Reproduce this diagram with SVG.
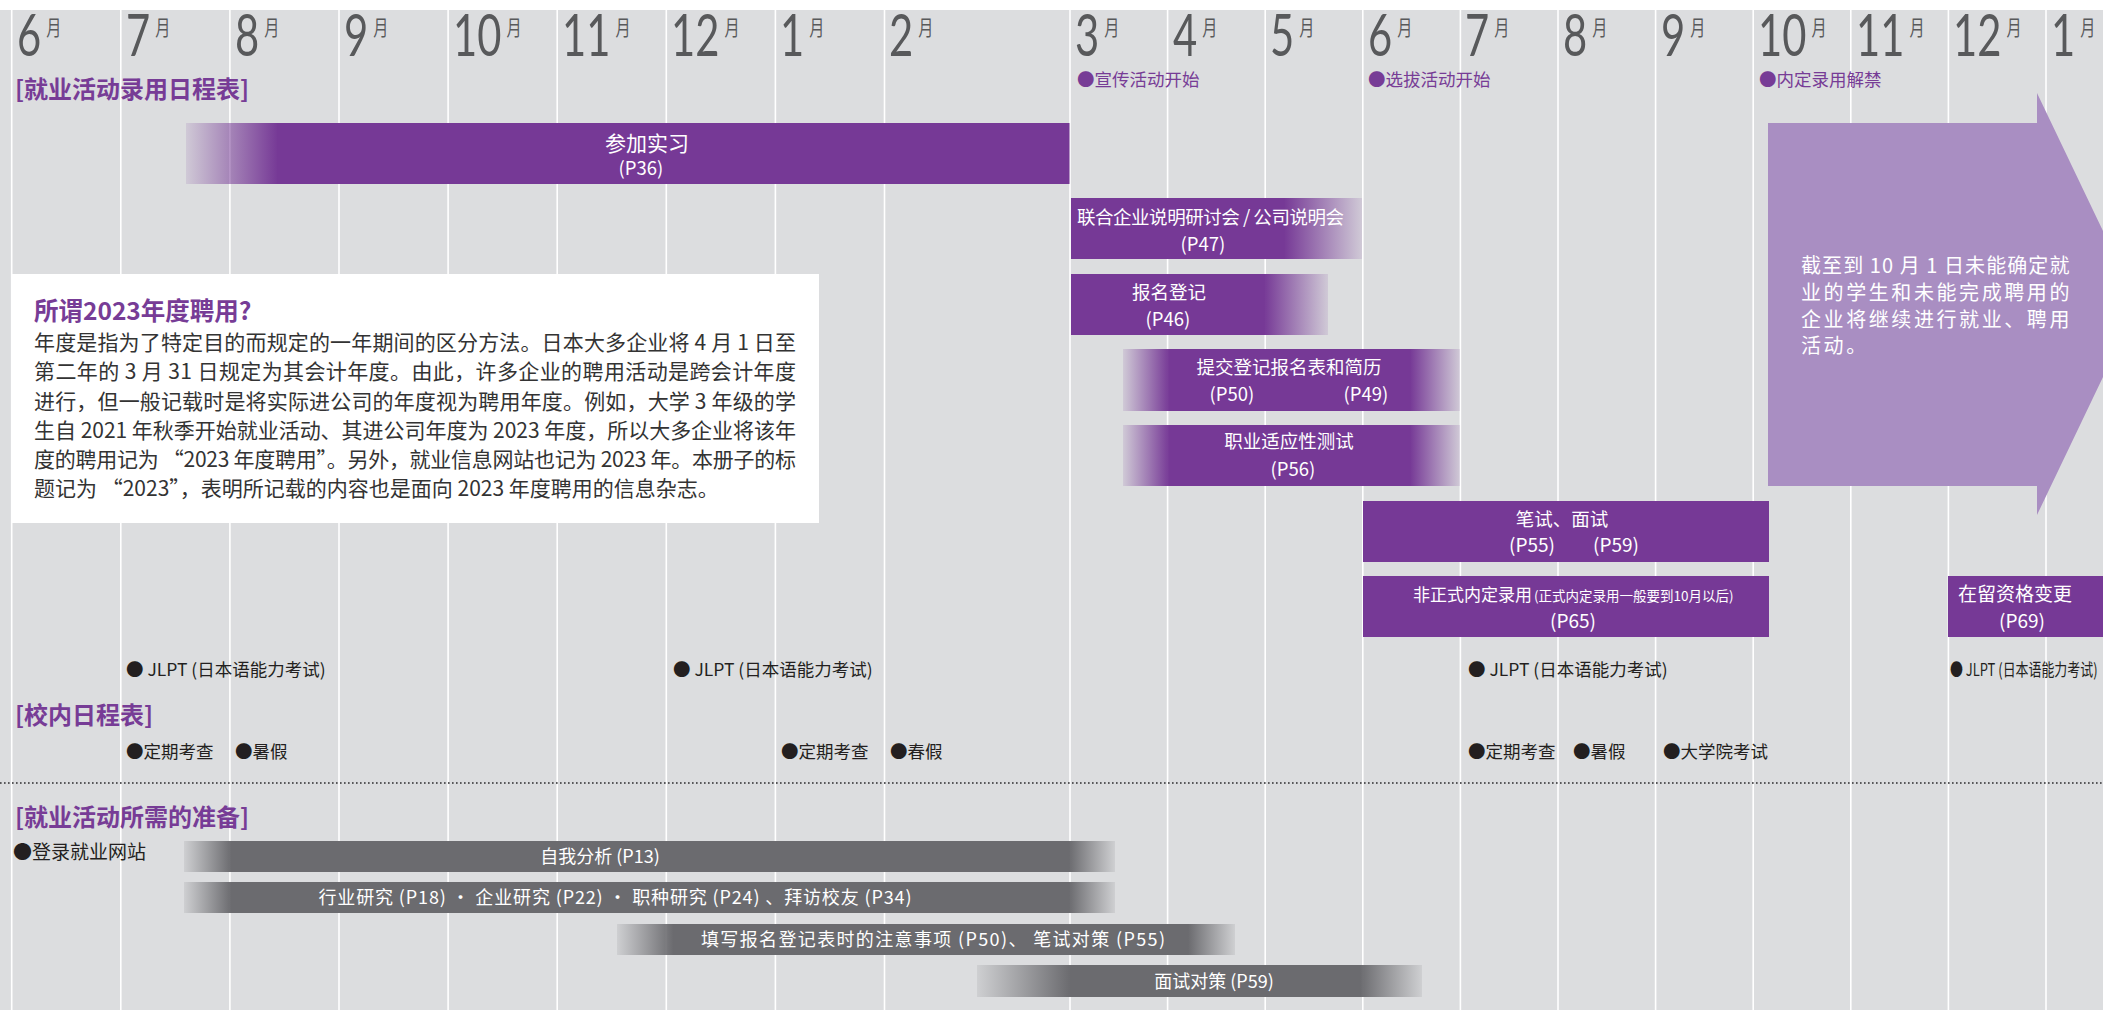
<svg xmlns="http://www.w3.org/2000/svg" width="2103" height="1010" viewBox="0 0 2103 1010">
<defs>
<linearGradient id="pL" x1="0" y1="0" x2="1" y2="0"><stop offset="0" stop-color="#763996" stop-opacity="0.12"/><stop offset="1" stop-color="#763996" stop-opacity="1"/></linearGradient>
<linearGradient id="pR" x1="0" y1="0" x2="1" y2="0"><stop offset="0" stop-color="#763996" stop-opacity="1"/><stop offset="1" stop-color="#763996" stop-opacity="0.12"/></linearGradient>
<linearGradient id="gL" x1="0" y1="0" x2="1" y2="0"><stop offset="0" stop-color="#6b6b6f" stop-opacity="0.12"/><stop offset="1" stop-color="#6b6b6f" stop-opacity="1"/></linearGradient>
<linearGradient id="gR" x1="0" y1="0" x2="1" y2="0"><stop offset="0" stop-color="#6b6b6f" stop-opacity="1"/><stop offset="1" stop-color="#6b6b6f" stop-opacity="0.12"/></linearGradient>
</defs>
<style>
text{font-family:"Noto Sans CJK SC","Noto Sans",sans-serif;}
.num{font-family:Lato,"Open Sans","Noto Sans",sans-serif;font-weight:400;font-size:58px;fill:#58595b;}
.num tspan{font-family:"Noto Sans CJK SC",sans-serif;font-size:21px;}
.vl{stroke:#ffffff;stroke-width:1.6;}
.sec{font-size:24px;font-weight:700;fill:#773c96;}
.ms{font-size:17.5px;fill:#773c96;}
.pb{fill:#763996;}
.gb{fill:#6b6b6f;}
.wt{fill:#ffffff;font-size:18.5px;}
.wc{fill:#ffffff;font-size:18.5px;text-anchor:middle;}
.blk{fill:#231f20;font-size:17.5px;}
.body{fill:#333333;font-size:21px;}
.arr{fill:#ffffff;font-size:20px;letter-spacing:2.6px;}
</style>
<rect x="0" y="0" width="2103" height="1010" fill="#ffffff"/>
<rect x="0" y="10" width="2103" height="1000" fill="#dcdddf"/>
<g id="grid">
<line class="vl" x1="11.7" y1="10" x2="11.7" y2="1010"/>
<line class="vl" x1="120.8" y1="10" x2="120.8" y2="1010"/>
<line class="vl" x1="229.9" y1="10" x2="229.9" y2="1010"/>
<line class="vl" x1="339" y1="10" x2="339" y2="1010"/>
<line class="vl" x1="448.1" y1="10" x2="448.1" y2="1010"/>
<line class="vl" x1="557.2" y1="10" x2="557.2" y2="1010"/>
<line class="vl" x1="666.3" y1="10" x2="666.3" y2="1010"/>
<line class="vl" x1="775.4" y1="10" x2="775.4" y2="1010"/>
<line class="vl" x1="884.5" y1="10" x2="884.5" y2="1010"/>
<line class="vl" x1="1070" y1="10" x2="1070" y2="1010"/>
<line class="vl" x1="1167.6" y1="10" x2="1167.6" y2="1010"/>
<line class="vl" x1="1265.2" y1="10" x2="1265.2" y2="1010"/>
<line class="vl" x1="1362.8" y1="10" x2="1362.8" y2="1010"/>
<line class="vl" x1="1460.4" y1="10" x2="1460.4" y2="1010"/>
<line class="vl" x1="1558" y1="10" x2="1558" y2="1010"/>
<line class="vl" x1="1655.6" y1="10" x2="1655.6" y2="1010"/>
<line class="vl" x1="1753.2" y1="10" x2="1753.2" y2="1010"/>
<line class="vl" x1="1850.8" y1="10" x2="1850.8" y2="1010"/>
<line class="vl" x1="1948.4" y1="10" x2="1948.4" y2="1010"/>
<line class="vl" x1="2046" y1="10" x2="2046" y2="1010"/>
</g>
<g id="months">
<text class="num" transform="translate(17 56) scale(0.72 1)">6<tspan dx="7" dy="-21">月</tspan></text>
<text class="num" transform="translate(126 56) scale(0.72 1)">7<tspan dx="7" dy="-21">月</tspan></text>
<text class="num" transform="translate(235 56) scale(0.72 1)">8<tspan dx="7" dy="-21">月</tspan></text>
<text class="num" transform="translate(344 56) scale(0.72 1)">9<tspan dx="7" dy="-21">月</tspan></text>
<text class="num" transform="translate(453 56) scale(0.72 1)">10<tspan dx="7" dy="-21">月</tspan></text>
<text class="num" transform="translate(562 56) scale(0.72 1)">11<tspan dx="7" dy="-21">月</tspan></text>
<text class="num" transform="translate(671 56) scale(0.72 1)">12<tspan dx="7" dy="-21">月</tspan></text>
<text class="num" transform="translate(780 56) scale(0.72 1)">1<tspan dx="7" dy="-21">月</tspan></text>
<text class="num" transform="translate(889 56) scale(0.72 1)">2<tspan dx="7" dy="-21">月</tspan></text>
<text class="num" transform="translate(1075 56) scale(0.72 1)">3<tspan dx="7" dy="-21">月</tspan></text>
<text class="num" transform="translate(1173 56) scale(0.72 1)">4<tspan dx="7" dy="-21">月</tspan></text>
<text class="num" transform="translate(1270 56) scale(0.72 1)">5<tspan dx="7" dy="-21">月</tspan></text>
<text class="num" transform="translate(1368 56) scale(0.72 1)">6<tspan dx="7" dy="-21">月</tspan></text>
<text class="num" transform="translate(1465 56) scale(0.72 1)">7<tspan dx="7" dy="-21">月</tspan></text>
<text class="num" transform="translate(1563 56) scale(0.72 1)">8<tspan dx="7" dy="-21">月</tspan></text>
<text class="num" transform="translate(1661 56) scale(0.72 1)">9<tspan dx="7" dy="-21">月</tspan></text>
<text class="num" transform="translate(1758 56) scale(0.72 1)">10<tspan dx="7" dy="-21">月</tspan></text>
<text class="num" transform="translate(1856 56) scale(0.72 1)">11<tspan dx="7" dy="-21">月</tspan></text>
<text class="num" transform="translate(1953 56) scale(0.72 1)">12<tspan dx="7" dy="-21">月</tspan></text>
<text class="num" transform="translate(2051 56) scale(0.72 1)">1<tspan dx="7" dy="-21">月</tspan></text>
</g>
<g id="headings">
<text class="sec" x="15" y="98">[就业活动录用日程表]</text>
<text class="sec" x="15" y="724">[校内日程表]</text>
<text class="sec" x="15" y="826">[就业活动所需的准备]</text>
</g>
<g id="milestones">
<text class="ms" x="1077" y="86">●宣传活动开始</text>
<text class="ms" x="1368" y="86">●选拔活动开始</text>
<text class="ms" x="1759" y="86">●内定录用解禁</text>
</g>
<g id="internship">
<rect x="186" y="123" width="92" height="61" fill="url(#pL)"/>
<rect class="pb" x="277.5" y="123" width="792" height="61"/>
<text class="wc" x="647" y="151" style="font-size:21px">参加实习</text>
<text class="wc" x="641" y="175" style="font-size:18.5px">(P36)</text>
</g>
<g id="seminar">
<rect class="pb" x="1071" y="198" width="213.5" height="61"/>
<rect x="1284" y="198" width="78" height="61" fill="url(#pR)"/>
<text class="wt" x="1077" y="224" textLength="267" lengthAdjust="spacing">联合企业说明研讨会 / 公司说明会</text>
<text class="wc" x="1203" y="251">(P47)</text>
</g>
<g id="entry">
<rect class="pb" x="1071" y="274" width="193.5" height="61"/>
<rect x="1264" y="274" width="64" height="61" fill="url(#pR)"/>
<text class="wc" x="1169" y="299">报名登记</text>
<text class="wc" x="1168" y="326">(P46)</text>
</g>
<g id="es">
<rect x="1123" y="349" width="46.5" height="62" fill="url(#pL)"/>
<rect class="pb" x="1169" y="349" width="241.5" height="62"/>
<rect x="1410" y="349" width="50" height="62" fill="url(#pR)"/>
<text class="wc" x="1289" y="374">提交登记报名表和简历</text>
<text class="wc" x="1232" y="401">(P50)</text>
<text class="wc" x="1366" y="401">(P49)</text>
</g>
<g id="aptitude">
<rect x="1123" y="425" width="46.5" height="61" fill="url(#pL)"/>
<rect class="pb" x="1169" y="425" width="241.5" height="61"/>
<rect x="1410" y="425" width="50" height="61" fill="url(#pR)"/>
<text class="wc" x="1289" y="448">职业适应性测试</text>
<text class="wc" x="1293" y="476">(P56)</text>
</g>
<g id="exam">
<rect class="pb" x="1363" y="501" width="406" height="61"/>
<text class="wc" x="1562" y="526">笔试、面试</text>
<text class="wc" x="1532" y="552" style="font-size:19px">(P55)</text>
<text class="wc" x="1616" y="552" style="font-size:19px">(P59)</text>
</g>
<g id="naitei">
<rect class="pb" x="1363" y="576" width="406" height="61"/>
<text class="wt" x="1413" y="601" style="font-size:17px">非正式内定录用<tspan style="font-size:13.5px" dx="2">(正式内定录用一般要到10月以后)</tspan></text>
<text class="wc" x="1573" y="628" style="font-size:19px">(P65)</text>
</g>
<g id="visa">
<rect class="pb" x="1948" y="576" width="155" height="61"/>
<text class="wt" x="1958" y="601" style="font-size:19px">在留资格变更</text>
<text class="wc" x="2022" y="628" style="font-size:19px">(P69)</text>
</g>
<g id="continue-arrow">
<path d="M1768 123 H2037 V93 L2138 304 L2037 515 V486 H1768 Z" fill="#a98ec2"/>
<text class="arr" x="1801" y="273" textLength="271" lengthAdjust="spacing">截至到 10 月 1 日未能确定就</text>
<text class="arr" x="1801" y="300" textLength="271" lengthAdjust="spacing">业的学生和未能完成聘用的</text>
<text class="arr" x="1801" y="327" textLength="271" lengthAdjust="spacing">企业将继续进行就业、聘用</text>
<text class="arr" x="1801" y="353">活动。</text>
</g>
<g id="note">
<rect x="11" y="274" width="808" height="249" fill="#ffffff"/>
<text x="34" y="320" style="font-size:24.5px;font-weight:700;fill:#773c96">所谓2023年度聘用?</text>
<text class="body" x="34" y="350" textLength="762" lengthAdjust="spacing">年度是指为了特定目的而规定的一年期间的区分方法。日本大多企业将 4 月 1 日至</text>
<text class="body" x="34" y="379" textLength="762" lengthAdjust="spacing">第二年的 3 月 31 日规定为其会计年度。由此，许多企业的聘用活动是跨会计年度</text>
<text class="body" x="34" y="408.5" textLength="762" lengthAdjust="spacing">进行，但一般记载时是将实际进公司的年度视为聘用年度。例如，大学 3 年级的学</text>
<text class="body" x="34" y="438" textLength="762" lengthAdjust="spacing">生自 2021 年秋季开始就业活动、其进公司年度为 2023 年度，所以大多企业将该年</text>
<text class="body" x="34" y="467" textLength="762" lengthAdjust="spacing">度的聘用记为 “2023 年度聘用”。另外，就业信息网站也记为 2023 年。本册子的标</text>
<text class="body" x="34" y="496">题记为 “2023”，表明所记载的内容也是面向 2023 年度聘用的信息杂志。</text>
</g>
<g id="jlpt">
<text class="blk" x="126" y="676">● JLPT (日本语能力考试)</text>
<text class="blk" x="673" y="676">● JLPT (日本语能力考试)</text>
<text class="blk" x="1468" y="676">● JLPT (日本语能力考试)</text>
<text class="blk" transform="translate(1950 676) scale(0.74 1)">● JLPT (日本语能力考试)</text>
</g>
<g id="school">
<text class="blk" x="126" y="758">●定期考查</text>
<text class="blk" x="235" y="758">●暑假</text>
<text class="blk" x="781" y="758">●定期考查</text>
<text class="blk" x="890" y="758">●春假</text>
<text class="blk" x="1468" y="758">●定期考查</text>
<text class="blk" x="1573" y="758">●暑假</text>
<text class="blk" x="1663" y="758">●大学院考试</text>
</g>
<line id="divider" x1="0" y1="783" x2="2103" y2="783" stroke="#58585a" stroke-width="2.2" stroke-dasharray="1.6 2.4"/>
<g id="site">
<text class="blk" x="13" y="859" style="font-size:19px">●登录就业网站</text>
</g>
<g id="self-analysis">
<rect x="184" y="841" width="47.5" height="31" fill="url(#gL)"/>
<rect class="gb" x="231" y="841" width="838.5" height="31"/>
<rect x="1069" y="841" width="46" height="31" fill="url(#gR)"/>
<text class="wc" x="600" y="863" style="font-size:18px">自我分析 (P13)</text>
</g>
<g id="research">
<rect x="184" y="882" width="47.5" height="31" fill="url(#gL)"/>
<rect class="gb" x="231" y="882" width="838.5" height="31"/>
<rect x="1069" y="882" width="46" height="31" fill="url(#gR)"/>
<text class="wc" x="615" y="904" style="font-size:18px" textLength="593" lengthAdjust="spacing">行业研究 (P18) • 企业研究 (P22) • 职种研究 (P24) 、拜访校友 (P34)</text>
</g>
<g id="es-tips">
<rect x="617" y="924" width="56.5" height="31" fill="url(#gL)"/>
<rect class="gb" x="673" y="924" width="515.5" height="31"/>
<rect x="1188" y="924" width="47" height="31" fill="url(#gR)"/>
<text class="wc" x="933" y="946" style="font-size:18px" textLength="464" lengthAdjust="spacing">填写报名登记表时的注意事项 (P50)、 笔试对策 (P55)</text>
</g>
<g id="interview">
<rect x="977" y="965" width="93.5" height="32" fill="url(#gL)"/>
<rect class="gb" x="1070" y="965" width="290.5" height="32"/>
<rect x="1360" y="965" width="62" height="32" fill="url(#gR)"/>
<text class="wc" x="1214" y="988" style="font-size:18px">面试对策 (P59)</text>
</g>
<g id="connectors"/>
</svg>
